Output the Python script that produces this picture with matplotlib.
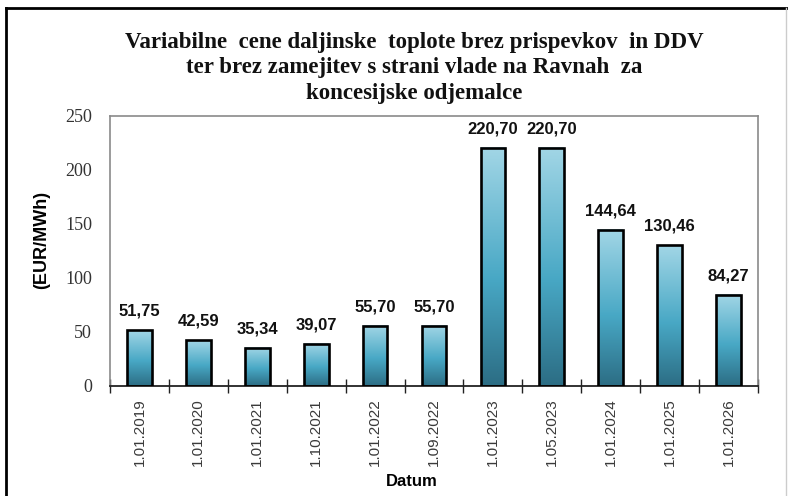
import matplotlib.pyplot as plt
import numpy as np
from matplotlib.colors import LinearSegmentedColormap
from matplotlib.lines import Line2D

dates = ['1.01.2019', '1.01.2020', '1.01.2021', '1.10.2021', '1.01.2022', '1.09.2022',
         '1.01.2023', '1.05.2023', '1.01.2024', '1.01.2025', '1.01.2026']
prices = [51.75, 42.59, 35.34, 39.07, 55.70, 55.70, 220.70, 220.70, 144.64, 130.46, 84.27]
yticks = [0, 50, 100, 150, 200, 250]

title = ('Variabilne  cene daljinske  toplote brez prispevkov  in DDV\n'
         'ter brez zamejitev s strani vlade na Ravnah  za\n'
         'koncesijske odjemalce')

fig = plt.figure(figsize=(7.88, 4.96), dpi=100)
ax = fig.add_axes([110 / 788, 1 - 386 / 496, 648 / 788, 270 / 496])

# vertical gradient for the bars: dark at the bottom, light at the top
grad = LinearSegmentedColormap.from_list('bar', [(0, '#2c6d84'), (0.45, '#48a8c5'), (1, '#a2d6e6')])
gimg = np.linspace(0, 1, 256).reshape(-1, 1)

x = np.arange(len(prices))
w = 0.42
for xi, v in zip(x, prices):
    ax.imshow(gimg, cmap=grad, origin='lower', aspect='auto',
              extent=(xi - w / 2, xi + w / 2, 0, v), zorder=2)
ax.bar(x, prices, w, fill=False, edgecolor='black', linewidth=1.9, zorder=3)

for xi, v in zip(x, prices):
    ax.annotate(f'{v:.2f}'.replace('.', ','), (xi, v), xytext=(0, 8), textcoords='offset points',
                ha='center', va='bottom', fontsize=12, fontweight='bold',
                family='Liberation Sans', color='#111111')

ax.set_xlim(-0.5, len(prices) - 0.5)
ax.set_ylim(0, 250)

# ticks between categories, labels at the centres
ax.set_xticks(np.arange(-0.5, len(prices)), labels=[])
ax.set_xticks(x, labels=dates, minor=True)
ax.tick_params(axis='x', which='major', direction='inout', length=10, width=1, color='#222222')
ax.tick_params(axis='x', which='minor', length=0, pad=9, rotation=90,
               labelsize=11, labelcolor='#3a3a3a')
for lab in ax.get_xticklabels(minor=True):
    lab.set_family('Liberation Sans')

ax.set_yticks(yticks)
ax.tick_params(axis='y', length=0, pad=13, labelsize=13, labelcolor='#333333')
for lab in ax.get_yticklabels():
    lab.set_family('Liberation Serif')

for s in ['left', 'top', 'right']:
    ax.spines[s].set_color('#8a8a8a')
    ax.spines[s].set_linewidth(1.2)
ax.spines['bottom'].set_color('#222222')
ax.spines['bottom'].set_linewidth(1.3)

ax.text((42 - 110) / 648, 0.54, '(EUR/MWh)', transform=ax.transAxes, rotation=90,
        ha='center', va='center', fontsize=13, fontweight='bold', family='Liberation Sans')
fig.text(412 / 788, 1 - 482 / 496, 'Datum', ha='center', va='center',
         fontsize=12, fontweight='bold', family='Liberation Sans')

fig.text(414 / 788, 1 - 68 / 496, title, ha='center', va='center', fontsize=16.5,
         fontweight='bold', family='Liberation Serif', linespacing=1.27, color='#111111')

# frame around the picture
fig.add_artist(Line2D([6 / 788, 1], [1 - 8 / 496, 1 - 8 / 496], color='black', lw=2))
fig.add_artist(Line2D([6 / 788, 6 / 788], [0, 1 - 8 / 496], color='black', lw=2))
fig.add_artist(Line2D([786 / 788, 786 / 788], [0, 1 - 8 / 496], color='#cccccc', lw=1))

fig.savefig('out.png', dpi=100)
